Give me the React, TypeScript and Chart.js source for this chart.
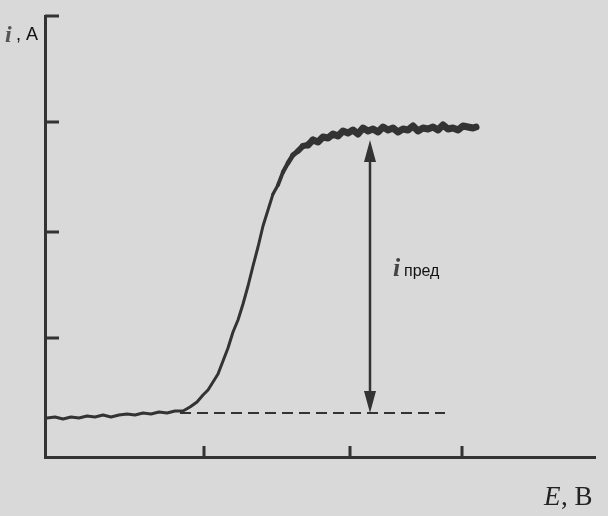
import React, { useEffect, useRef } from "react";
import { Chart, registerables } from "chart.js";
Chart.register(...registerables);

// arbitrary units (potential E along x, current i along y)
const xTicks = [159, 305, 417];
const yTicks = [119, 225, 335, 441];
const curveX = [2, 10, 18, 26, 34, 42, 50, 58, 66, 74, 82, 90, 98, 106, 114, 122, 130, 138, 145, 152, 158, 163, 168, 173, 178, 183, 188, 193, 198, 203, 208, 213, 218, 223, 228, 233, 238, 243, 248, 253, 258, 263, 268, 273, 278, 283, 288, 293, 298, 303, 308, 313, 318, 323, 328, 333, 338, 343, 348, 353, 358, 363, 368, 373, 378, 383, 388, 393, 398, 403, 408, 413, 418, 423, 428, 431];
const curveY = [39, 40, 38, 40, 39, 41, 40, 42, 40, 42, 43, 42, 44, 43, 45, 44, 46, 46, 50, 55, 62, 67, 75, 83, 96, 109, 125, 137, 153, 171, 191, 210, 231, 247, 263, 272, 285, 294, 302, 306, 311, 312, 317, 315, 320, 319, 323, 321, 326, 324, 327, 323, 329, 326, 328, 325, 330, 327, 329, 325, 328, 327, 331, 326, 329, 328, 330, 327, 332, 328, 329, 327, 331, 330, 329, 330];
const dashX = [135, 400];
const dashY = [44, 44];
const arrowX = 325;
const arrowFrom = 44;
const arrowTo = 317;

export default function App() {
  const ref = useRef<HTMLCanvasElement | null>(null);
  useEffect(() => {
    if (!ref.current) return;
    const dark = "#333333";
    const deco = {
      id: "deco",
      afterDraw(chart: any) {
        const ctx = chart.ctx;
        const xs = chart.scales.x;
        const ys = chart.scales.y;
        const x0 = xs.left;
        const y0 = ys.bottom;
        ctx.save();
        ctx.strokeStyle = dark;
        ctx.lineWidth = 3;
        ctx.beginPath();
        for (const t of yTicks) {
          const py = ys.getPixelForValue(t);
          ctx.moveTo(x0, py);
          ctx.lineTo(x0 + 14, py);
        }
        for (const t of xTicks) {
          const px = xs.getPixelForValue(t);
          ctx.moveTo(px, y0);
          ctx.lineTo(px, y0 - 11);
        }
        ctx.stroke();
        // double arrow
        const ax = xs.getPixelForValue(arrowX);
        const ay1 = ys.getPixelForValue(arrowTo);
        const ay2 = ys.getPixelForValue(arrowFrom);
        ctx.lineWidth = 2.5;
        ctx.beginPath();
        ctx.moveTo(ax, ay1 + 10);
        ctx.lineTo(ax, ay2 - 10);
        ctx.stroke();
        ctx.fillStyle = dark;
        ctx.beginPath();
        ctx.moveTo(ax, ay1);
        ctx.lineTo(ax - 6, ay1 + 22);
        ctx.lineTo(ax + 6, ay1 + 22);
        ctx.closePath();
        ctx.fill();
        ctx.beginPath();
        ctx.moveTo(ax, ay2);
        ctx.lineTo(ax - 6, ay2 - 22);
        ctx.lineTo(ax + 6, ay2 - 22);
        ctx.closePath();
        ctx.fill();
        // labels
        ctx.textBaseline = "alphabetic";
        ctx.fillStyle = "#555";
        ctx.font = "bold italic 24px 'Liberation Serif'";
        ctx.fillText("i", 5, 42);
        ctx.fillStyle = "#111";
        ctx.font = "18px 'Liberation Sans'";
        ctx.fillText(", A", 16, 40);
        ctx.fillStyle = "#444";
        ctx.font = "bold italic 26px 'Liberation Serif'";
        ctx.fillText("i", 393, 276);
        ctx.fillStyle = "#111";
        ctx.font = "16px 'Liberation Sans'";
        ctx.fillText("пред", 404, 276);
        ctx.fillStyle = "#222";
        ctx.font = "italic 27px 'Liberation Serif'";
        ctx.fillText("E", 544, 505);
        ctx.font = "27px 'Liberation Serif'";
        ctx.fillText(", B", 561, 505);
        ctx.restore();
      },
    };
    const chart = new Chart(ref.current, {
      type: "line",
      data: {
        datasets: [
          {
            data: curveX.map((x, i) => ({ x, y: curveY[i] })),
            borderColor: dark,
            borderWidth: 2.5,
            borderCapStyle: "round",
            borderJoinStyle: "round",
            pointRadius: 0,
            tension: 0,
            segment: {
              borderWidth: (c: any) => {
                const x = c.p0.parsed.x;
                const f = Math.min(1, Math.max(0, (x - 225) / 40));
                return 3 + f * 4;
              },
            },
          },
          {
            data: dashX.map((x, i) => ({ x, y: dashY[i] })),
            borderColor: dark,
            borderWidth: 2,
            borderDash: [11, 6],
            pointRadius: 0,
          },
        ],
      },
      options: {
        animation: false,
        responsive: false,
        maintainAspectRatio: false,
        layout: { padding: { left: 45, right: 13, top: 16, bottom: 59 } },
        plugins: { legend: { display: false }, tooltip: { enabled: false } },
        scales: {
          x: {
            type: "linear",
            min: 0,
            max: 550,
            ticks: { display: false },
            grid: { display: false, drawTicks: false },
            border: { display: true, color: dark, width: 3 },
          },
          y: {
            type: "linear",
            min: 0,
            max: 441,
            ticks: { display: false },
            grid: { display: false, drawTicks: false },
            border: { display: true, color: dark, width: 3 },
          },
        },
      },
      plugins: [deco],
    });
    return () => chart.destroy();
  }, []);
  return (
    <div style={{ position: "absolute", left: 0, top: 0, width: 608, height: 516, background: "#d9d9d9" }}>
      <canvas ref={ref} width={608} height={516} style={{ width: 608, height: 516 }} />
    </div>
  );
}
